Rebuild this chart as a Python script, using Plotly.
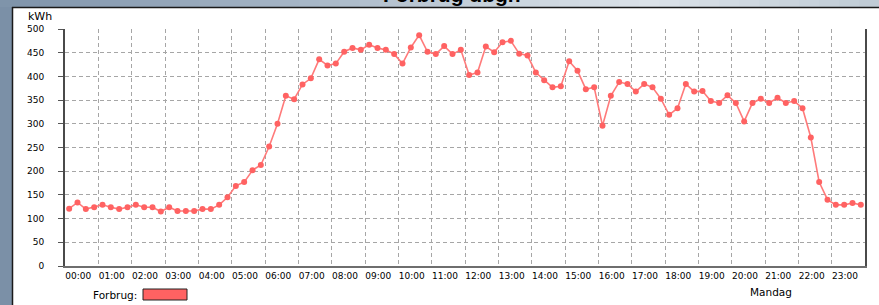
import plotly.graph_objects as go

# ---- data ----
title_text = "Forbrug dbgh"
unit_label = "kWh"
series_name = "Forbrug"
day_label = "Mandag"
hour_labels = ["%02d:00" % h for h in range(24)]
y_ticks = [0, 50, 100, 150, 200, 250, 300, 350, 400, 450, 500]

# quarter-hour consumption (kWh), 96 values
forbrug = [
    121, 134, 120, 124, 129, 124, 120, 124,
    129, 124, 124, 115, 124, 116, 116, 116,
    120, 120, 129, 145, 169, 177, 202, 213,
    252, 300, 359, 352, 383, 396, 436, 423,
    427, 452, 460, 456, 467, 460, 456, 447,
    427, 461, 487, 452, 447, 464, 447, 456,
    403, 408, 463, 451, 472, 475, 448, 444,
    408, 392, 377, 379, 432, 412, 373, 377,
    296, 359, 388, 384, 368, 384, 377, 353,
    319, 333, 384, 368, 369, 348, 344, 360,
    344, 305, 344, 353, 344, 355, 344, 348,
    333, 271, 177, 140, 129, 129, 133, 129,
]
quarter_pos = [(i + 0.5) / 4 for i in range(len(forbrug))]

# ---- geometry (pixels) ----
W, H = 879, 305
L, R, T, B = 65, 865, 29, 266


def px(x):
    return (x - L) / (R - L)


def py(y):
    return (B - y) / (B - T)


RED = "#ff6262"
GRID = "#a6a6a6"
FONT = "DejaVu Sans"

fig = go.Figure()
fig.add_trace(go.Scatter(
    x=quarter_pos, y=forbrug, mode="lines+markers", name=series_name,
    line=dict(color="#ff7a7a", width=1.6),
    marker=dict(color=RED, size=6),
    showlegend=False, hoverinfo="x+y",
))

shapes = []
# background gradient strip at top
stops = [(0, (0x7e, 0x93, 0xaa)), (300, (0xa6, 0xb6, 0xc6)), (480, (0xc6, 0xd1, 0xdb)),
         (650, (0xdc, 0xe3, 0xe9)), (879, (0xbf, 0xcb, 0xd5))]


def col_at(x):
    for (x0, c0), (x1, c1) in zip(stops[:-1], stops[1:]):
        if x0 <= x <= x1:
            t = (x - x0) / (x1 - x0)
            return "rgb(%d,%d,%d)" % tuple(int(a + (b - a) * t) for a, b in zip(c0, c1))
    return "rgb(%d,%d,%d)" % stops[-1][1]


n = 44
for k in range(n):
    x0 = W * k / n
    x1 = W * (k + 1) / n + 1
    shapes.append(dict(type="rect", xref="paper", yref="paper", layer="below",
                       x0=px(x0), x1=px(x1), y0=py(7), y1=py(-60),
                       fillcolor=col_at((x0 + x1) / 2), line=dict(width=0)))
# left strip
shapes.append(dict(type="rect", xref="paper", yref="paper", layer="below",
                   x0=px(-5), x1=px(12), y0=py(320), y1=py(7),
                   fillcolor="#7b90a7", line=dict(width=0)))
# panel border lines
shapes.append(dict(type="line", xref="paper", yref="paper", x0=px(12), x1=px(890),
                   y0=py(7.5), y1=py(7.5), line=dict(color="#1a1a1a", width=1.5)))
shapes.append(dict(type="line", xref="paper", yref="paper", x0=px(12.5), x1=px(12.5),
                   y0=py(7), y1=py(320), line=dict(color="#1a1a1a", width=1.5)))
# legend swatch
shapes.append(dict(type="rect", xref="paper", yref="paper",
                   x0=px(143), x1=px(187), y0=py(300), y1=py(289),
                   fillcolor=RED, line=dict(color="#222222", width=1)))

annotations = [
    dict(text="<b>%s</b>" % title_text, xref="paper", yref="paper", x=px(452), y=py(-5),
         xanchor="center", yanchor="middle", showarrow=False,
         font=dict(family="Liberation Sans", size=21, color="#000000")),
    dict(text=unit_label, xref="paper", yref="paper", x=px(40), y=py(17),
         xanchor="center", yanchor="middle", showarrow=False,
         font=dict(family=FONT, size=11, color="#000000")),
    dict(text=series_name + ":", xref="paper", yref="paper", x=px(139), y=py(295),
         xanchor="right", yanchor="middle", showarrow=False,
         font=dict(family=FONT, size=10.5, color="#000000")),
    dict(text=day_label, xref="paper", yref="paper", x=px(771), y=py(292),
         xanchor="center", yanchor="middle", showarrow=False,
         font=dict(family=FONT, size=10.5, color="#000000")),
]

fig.update_layout(
    width=W, height=H,
    margin=dict(l=L, r=W - R, t=T, b=H - B),
    paper_bgcolor="#ffffff", plot_bgcolor="#ffffff",
    shapes=shapes, annotations=annotations,
    xaxis=dict(
        range=[0, 24], tickmode="array",
        tickvals=[h + 0.4 for h in range(24)], ticktext=hour_labels,
        ticks="", showgrid=False, zeroline=False,
        showline=True, linecolor="#6e6e6e", linewidth=2,
        tickfont=dict(family=FONT, size=9, color="#000000"),
        minor=dict(tickmode="array", tickvals=list(range(25)), showgrid=True,
                   gridcolor=GRID, griddash="4px,3px", gridwidth=1, ticks=""),
    ),
    yaxis=dict(
        range=[0, 500], tickmode="array", tickvals=y_ticks,
        ticks="outside", ticklen=5, tickcolor="#555555", tickwidth=1,
        showgrid=True, gridcolor=GRID, griddash="4px,3px", gridwidth=1,
        zeroline=False, showline=True, mirror=True,
        linecolor="#4a4a4a", linewidth=2,
        tickfont=dict(family=FONT, size=9, color="#000000"),
        ticklabelstandoff=12,
    ),
)

fig.write_html(
    "out.html",
    config={"displayModeBar": False},
    post_script="document.body.style.margin='0';document.body.style.overflow='hidden';",
)
